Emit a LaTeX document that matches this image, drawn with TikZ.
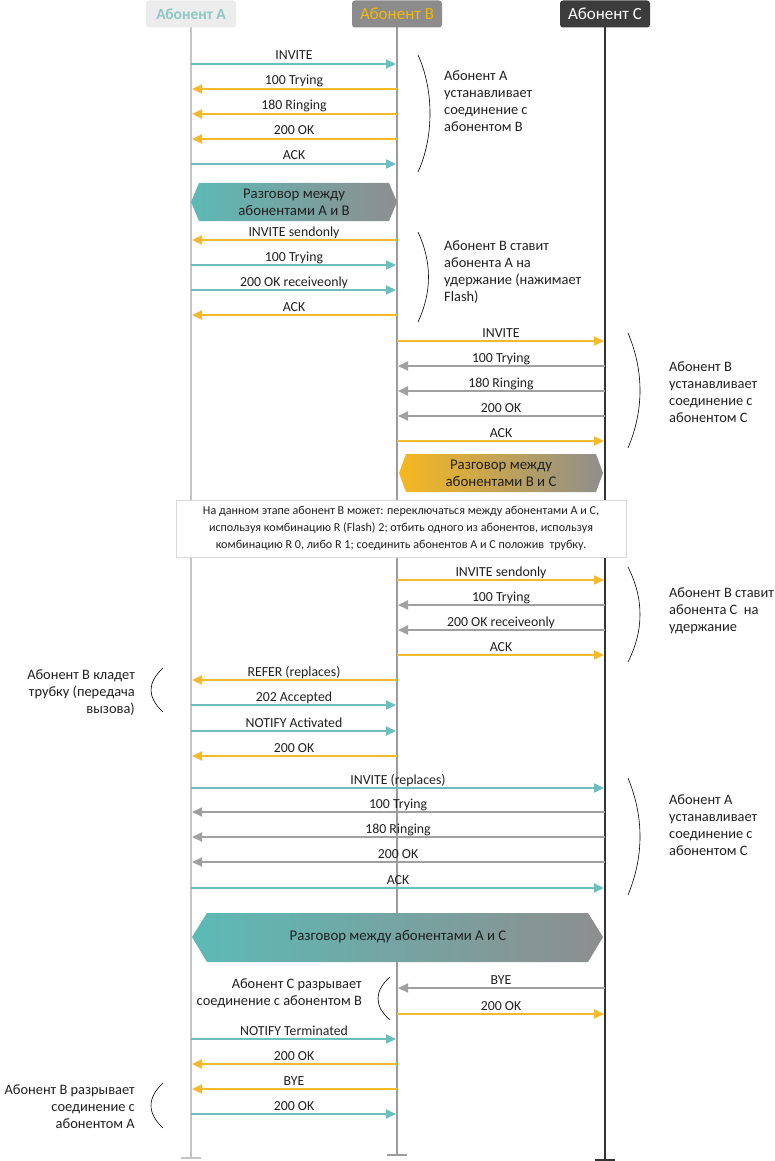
\documentclass[tikz,border=0pt]{standalone}
\usepackage{fontspec}
\setmainfont{Carlito}
\usetikzlibrary{arrows.meta}
\definecolor{cA}{HTML}{6CBFBD}
\definecolor{cB}{HTML}{F6B92B}
\definecolor{cC}{HTML}{A0A0A0}
\definecolor{txt}{HTML}{202020}
\definecolor{hexteal}{HTML}{5CBAB6}
\definecolor{hexgrey}{HTML}{8E8E8E}
\definecolor{hexyel}{HTML}{F6B81F}
\definecolor{lineA}{HTML}{C4C4C4}
\definecolor{lineB}{HTML}{9C9C9C}
\definecolor{lineC}{HTML}{333333}
\definecolor{hAfill}{HTML}{ECECEC}
\definecolor{hAtext}{HTML}{8CC8C4}
\definecolor{hBfill}{HTML}{8C8C8C}
\definecolor{hBtext}{HTML}{F2B705}
\definecolor{hCfill}{HTML}{3C3C3C}
\definecolor{notebd}{HTML}{D9D9D9}
\newcommand\msg[5]{\draw[#1] (#2 |- 0,#4) -- node[lbl]{#5} (#3 |- 0,#4);}
\begin{document}
\begin{tikzpicture}[x=1pt,y=-1pt,
  lbl/.style={font=\fontsize{13.8}{15}\selectfont, text=txt, inner sep=0pt, anchor=south, text depth=3pt},
  msg/.style={line width=2pt, -{Triangle[length=10pt,width=9pt]}, shorten >=1pt},
  ma/.style={msg, draw=cA},
  mb/.style={msg, draw=cB},
  mc/.style={msg, draw=cC},
  brk/.style={draw=black, line width=0.6pt},
  cmt/.style={font=\fontsize{14.4}{17}\selectfont, text=txt, inner sep=0pt},
  hex/.style={font=\fontsize{14.8}{17}\selectfont, text=txt, inner sep=0pt},
  hdr/.style={rounded corners=3pt, minimum width=90pt, minimum height=27pt, inner sep=0pt, font=\fontsize{17}{19}\selectfont},
  life/.style={line width=2pt},
]
\useasboundingbox (0,0) rectangle (775,1161);
\coordinate (A) at (191,0);
\coordinate (B) at (397,0);
\coordinate (C) at (605,0);
\coordinate (endA) at (191,1158);
\coordinate (endB) at (397,1155);
\coordinate (endC) at (605,1160);
% lifelines
\draw[life, lineA] (191,27) -- (endA);
\draw[life, lineB] (397,27) -- (endB);
\draw[life, lineC] (605,27) -- (endC);
\draw[life, lineA] ([xshift=-10pt]endA) -- ([xshift=10pt]endA);
\draw[life, lineB] ([xshift=-10pt]endB) -- ([xshift=10pt]endB);
\draw[life, lineC] ([xshift=-10pt]endC) -- ([xshift=10pt]endC);
% headers
\node[hdr, fill=hAfill, text=hAtext, font=\fontsize{15.5}{17}\selectfont\bfseries] (hA) at (191,14) {Абонент А};
\node[hdr, fill=hBfill, text=hBtext] (hB) at (397,14) {Абонент В};
\node[hdr, fill=hCfill, text=white] (hC) at (605,14) {Абонент С};
% hexagons
\shade[left color=hexteal, right color=hexgrey] (191,202) -- (199,183) -- (389,183) -- (397,202) -- (389,221) -- (199,221) -- cycle;
\node[hex, align=center] (tAB) at (294,202) {Разговор между\\абонентами А и В};
\shade[left color=hexyel, right color=hexgrey] (399,473) -- (406,454) -- (596,454) -- (603,473) -- (596,492) -- (406,492) -- cycle;
\node[hex, align=center] (tBC) at (501,473) {Разговор между\\абонентами В и С};
\shade[left color=hexteal, right color=hexgrey] (192,937) -- (207,913) -- (588,913) -- (603,937) -- (588,962) -- (207,962) -- cycle;
\node[hex] (tAC) at (398,937) {Разговор между абонентами А и С};
% note
\node[draw=notebd, line width=1pt, fill=white, minimum width=450pt, minimum height=57pt, inner sep=0pt,
  font=\fontsize{12.1}{17}\selectfont, text=txt, align=center] (note) at (401,528.5)
  {На данном этапе абонент В может: переключаться между абонентами А и С,\\используя комбинацию R (Flash) 2; отбить одного из абонентов, используя\\комбинацию R 0, либо R 1; соединить абонентов А и С положив~ трубку.};
% messages
\msg{ma}{A}{B}{64}{INVITE}
\msg{mb}{B}{A}{89}{100 Trying}
\msg{mb}{B}{A}{114}{180 Ringing}
\msg{mb}{B}{A}{139}{200 OK}
\msg{ma}{A}{B}{164}{ACK}
\msg{mb}{B}{A}{240}{INVITE sendonly}
\msg{ma}{A}{B}{265}{100 Trying}
\msg{ma}{A}{B}{290}{200 OK receiveonly}
\msg{mb}{B}{A}{315}{ACK}
\msg{mb}{B}{C}{341}{INVITE}
\msg{mc}{C}{B}{366}{100 Trying}
\msg{mc}{C}{B}{391}{180 Ringing}
\msg{mc}{C}{B}{416}{200 OK}
\msg{mb}{B}{C}{441}{ACK}
\msg{mb}{B}{C}{580}{INVITE sendonly}
\msg{mc}{C}{B}{605}{100 Trying}
\msg{mc}{C}{B}{630}{200 OK receiveonly}
\msg{mb}{B}{C}{655}{ACK}
\msg{mb}{B}{A}{680}{REFER (replaces)}
\msg{ma}{A}{B}{705}{202 Accepted}
\msg{ma}{A}{B}{731}{NOTIFY Activated}
\msg{mb}{B}{A}{756}{200 OK}
\msg{ma}{A}{C}{788}{INVITE (replaces)}
\msg{mc}{C}{A}{812}{100 Trying}
\msg{mc}{C}{A}{837}{180 Ringing}
\msg{mc}{C}{A}{862}{200 OK}
\msg{ma}{A}{C}{888}{ACK}
\msg{mc}{C}{B}{988}{BYE}
\msg{mb}{B}{C}{1014}{200 OK}
\msg{ma}{A}{B}{1039}{NOTIFY Terminated}
\msg{mb}{B}{A}{1064}{200 OK}
\msg{mb}{B}{A}{1089}{BYE}
\msg{ma}{A}{B}{1114}{200 OK}
% brackets
\draw[brk] (418,55) .. controls (434,90) and (434,137) .. (418,172);
\draw[brk] (418,232) .. controls (432,262) and (432,292) .. (418,322);
\draw[brk] (628,333) .. controls (644,371) and (644,410) .. (628,448);
\draw[brk] (628,567) .. controls (644,599) and (644,630) .. (628,662);
\draw[brk] (163,668) .. controls (147,683) and (147,697) .. (163,712);
\draw[brk] (628,778) .. controls (644,817) and (644,856) .. (628,895);
\draw[brk] (390,977) .. controls (374,991) and (374,1006) .. (390,1020);
\draw[brk] (163,1083) .. controls (147,1098) and (147,1113) .. (163,1128);
% comments
\node[cmt, anchor=north west, align=left] (c1) at (444,70) {Абонент А\\устанавливает\\соединение с\\абонентом В};
\node[cmt, anchor=north west, align=left] (c2) at (444,240) {Абонент В ставит\\абонента А на\\удержание (нажимает\\Flash)};
\node[cmt, anchor=north west, align=left] (c3) at (669,361) {Абонент В\\устанавливает\\соединение с\\абонентом С};
\node[cmt, anchor=north west, align=left] (c4) at (669,587) {Абонент В ставит\\абонента С~ на\\удержание};
\node[cmt, anchor=north east, align=right] (c5) at (135,669) {Абонент В кладет\\трубку (передача\\вызова)};
\node[cmt, anchor=north west, align=left] (c6) at (669,794) {Абонент А\\устанавливает\\соединение с\\абонентом С};
\node[cmt, anchor=north east, align=right] (c7) at (362,978) {Абонент С разрывает\\соединение с абонентом В};
\node[cmt, anchor=north east, align=right] (c8) at (135,1084) {Абонент В разрывает\\соединение с\\абонентом А};
\end{tikzpicture}
\end{document}
